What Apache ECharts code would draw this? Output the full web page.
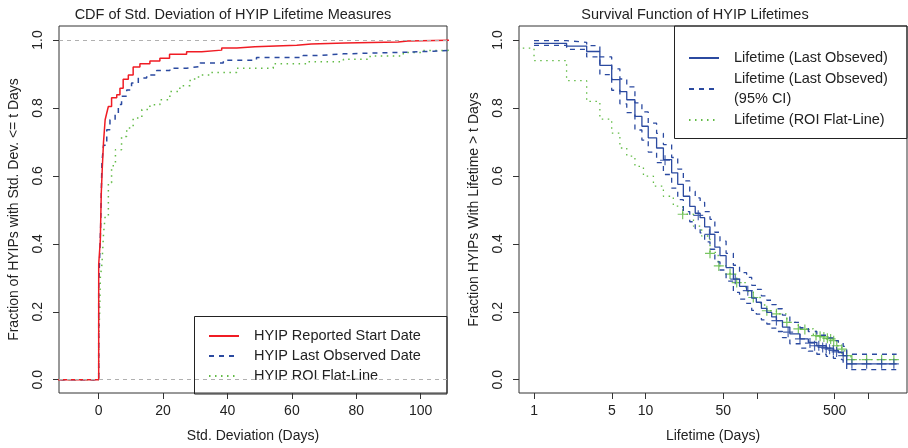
<!DOCTYPE html>
<html><head><meta charset="utf-8">
<script src="https://cdn.jsdelivr.net/npm/echarts@6/dist/echarts.min.js"></script>
<style>html,body{margin:0;padding:0;background:#fff}#c{width:908px;height:448px}</style>
</head><body><div id="c"></div>
<script>
// ---------- tick values ----------
const leftXTicks = [0, 20, 40, 60, 80, 100];
const probTicks = [0, 0.2, 0.4, 0.6, 0.8, 1.0];
const rightXTicks = [1, 5, 10, 50, 100, 500, 1000];
const rightXLabels = [1, 5, 10, 50, 500];

// ---------- left: ECDF of std. deviation ----------
const startX = [-15, 0, 0.5, 0.8, 1.1, 1.5, 2.0, 2.5, 3.0, 4.0, 5.6, 6.6, 7.6, 9.2, 10.7, 12.8, 15.9, 19, 22, 27.3, 32, 38.2, 42.9, 48.5, 61.5, 66, 76.5, 93, 96, 115];
const startY = [0, 0.34, 0.41, 0.55, 0.62, 0.70, 0.765, 0.785, 0.804, 0.83, 0.839, 0.858, 0.884, 0.897, 0.92, 0.93, 0.938, 0.946, 0.958, 0.965, 0.97, 0.976, 0.98, 0.984, 0.988, 0.991, 0.994, 0.997, 1.0, 1.0];

const lastX = [-15, 0, 0.6, 1.0, 1.5, 2.5, 3.5, 5.1, 6.1, 7.1, 8.7, 10.2, 12.3, 14.9, 18, 22.1, 27.3, 31.5, 38.7, 49, 63.5, 67.7, 76, 84, 95.6, 104, 115];
const lastY = [0, 0.27, 0.45, 0.64, 0.69, 0.736, 0.765, 0.78, 0.81, 0.834, 0.853, 0.873, 0.888, 0.897, 0.91, 0.917, 0.922, 0.932, 0.94, 0.948, 0.954, 0.959, 0.961, 0.964, 0.967, 0.971, 0.973];

const roiX = [-15, 0, 0.3, 0.5, 1.0, 1.5, 2.0, 3.0, 4.0, 5.2, 7.1, 8.7, 10.7, 13.4, 15.9, 19, 22.1, 25.2, 28.4, 31, 34.6, 42.9, 54.2, 64.6, 76, 84.3, 94.6, 100.8, 108, 115];
const roiY = [0, 0.12, 0.2, 0.3, 0.34, 0.43, 0.48, 0.58, 0.63, 0.677, 0.716, 0.741, 0.77, 0.795, 0.809, 0.824, 0.848, 0.865, 0.885, 0.897, 0.904, 0.917, 0.93, 0.936, 0.943, 0.953, 0.963, 0.969, 0.973, 0.973];

// ---------- right: survival (Kaplan-Meier) ----------
const survT = [1, 1.96, 2.97, 3.9, 4.98, 5.9, 6.8, 8.05, 9.3, 10.6, 12.6, 14.5, 17.2, 19.5, 21.9, 25, 28, 31, 34, 38, 42, 46.7, 53, 61.6, 70, 81, 90, 99, 110, 123, 136, 150, 170, 198, 244, 290, 346, 420, 487, 540, 596, 641, 1800];
const survS = [0.99, 0.982, 0.966, 0.925, 0.883, 0.848, 0.824, 0.775, 0.746, 0.712, 0.682, 0.648, 0.609, 0.575, 0.54, 0.51, 0.49, 0.477, 0.45, 0.428, 0.39, 0.365, 0.33, 0.296, 0.275, 0.262, 0.24, 0.228, 0.21, 0.198, 0.185, 0.174, 0.155, 0.135, 0.12, 0.11, 0.10, 0.093, 0.086, 0.08, 0.071, 0.047, 0.047];
const survUpper = [0.998, 0.993, 0.983, 0.95, 0.915, 0.885, 0.862, 0.815, 0.788, 0.755, 0.725, 0.692, 0.654, 0.62, 0.585, 0.555, 0.535, 0.522, 0.495, 0.472, 0.434, 0.408, 0.372, 0.337, 0.315, 0.301, 0.278, 0.266, 0.247, 0.234, 0.221, 0.209, 0.19, 0.169, 0.153, 0.142, 0.131, 0.123, 0.115, 0.108, 0.098, 0.075, 0.075];
const survLower = [0.984, 0.972, 0.95, 0.898, 0.852, 0.812, 0.786, 0.735, 0.705, 0.67, 0.639, 0.604, 0.564, 0.53, 0.495, 0.465, 0.445, 0.432, 0.406, 0.384, 0.347, 0.323, 0.29, 0.257, 0.237, 0.225, 0.204, 0.193, 0.176, 0.164, 0.152, 0.142, 0.124, 0.106, 0.093, 0.084, 0.075, 0.069, 0.063, 0.058, 0.05, 0.03, 0.03];
const censorT = [15, 29.8, 37.6, 64, 83, 150, 191, 244, 300, 330, 360, 390, 420, 450, 487, 520, 596, 714, 968, 1320, 1700];
const censorS = [0.646, 0.484, 0.428, 0.296, 0.262, 0.174, 0.14, 0.12, 0.108, 0.10, 0.10, 0.095, 0.093, 0.09, 0.086, 0.082, 0.071, 0.047, 0.047, 0.047, 0.047];

const roiT = [0.7, 1, 1.96, 2.97, 3.9, 4.98, 5.9, 6.8, 8.05, 9.6, 11.8, 14.5, 17.8, 21.6, 27, 32, 38, 45, 57.5, 66, 80, 93, 108, 123, 150, 186, 236, 322, 424, 522, 580, 641, 700, 1800];
const roiS = [0.976, 0.939, 0.88, 0.819, 0.767, 0.726, 0.682, 0.658, 0.628, 0.599, 0.57, 0.54, 0.511, 0.487, 0.452, 0.423, 0.375, 0.335, 0.311, 0.286, 0.26, 0.242, 0.22, 0.203, 0.194, 0.169, 0.15, 0.13, 0.12, 0.10, 0.085, 0.071, 0.059, 0.059];
const roiCensorT = [21.6, 38, 45.6, 57.5, 66, 93, 123, 150, 186, 236, 270, 340, 370, 400, 430, 460, 490, 522, 580, 641, 714, 968, 1320, 1700];
const roiCensorS = [0.487, 0.372, 0.335, 0.311, 0.286, 0.242, 0.203, 0.194, 0.169, 0.15, 0.148, 0.13, 0.128, 0.126, 0.122, 0.12, 0.115, 0.10, 0.09, 0.071, 0.059, 0.059, 0.059, 0.059];

const RED = '#f01c24', BLUE = '#2b4aa0', GREEN = '#62bb46';
const FONT = 'Liberation Sans';
const zip = (a, b) => a.map((v, i) => [v, b[i]]);
const CROSS = 'path://M4.4,0h1.2v10h-1.2zM0,4.4h10v1.2h-10z';

function yAxis(grid) {
  return {
    type: 'value', gridIndex: grid, min: -0.039, max: 1.041,
    name: grid === 0 ? 'Fraction of HYIPs with Std. Dev. <= t Days' : 'Fraction HYIPs With Lifetime > t Days',
    nameLocation: 'middle', nameGap: 38, nameRotate: 90,
    nameTextStyle: { fontFamily: FONT, fontSize: 14, color: '#222' },
    axisLine: { show: false, onZero: false }, splitLine: { show: false },
    axisTick: { show: true, length: 6, customValues: probTicks, lineStyle: { color: '#333' } },
    axisLabel: { customValues: probTicks, rotate: 90, margin: 14, fontFamily: FONT, fontSize: 14, color: '#222',
      formatter: v => v.toFixed(1) }
  };
}

const legendText = { fontFamily: FONT, fontSize: 14.5, color: '#222', lineHeight: 20, padding: [0, 0, 0, 10] };

const option = {
  animation: false,
  backgroundColor: '#fff',
  title: [
    { text: 'CDF of Std. Deviation of HYIP Lifetime Measures', left: 228, top: 2, textAlign: 'center',
      textStyle: { fontFamily: FONT, fontSize: 14.5, fontWeight: 'normal', color: '#222' } },
    { text: 'Survival Function of HYIP Lifetimes', left: 690, top: 2, textAlign: 'center',
      textStyle: { fontFamily: FONT, fontSize: 14.5, fontWeight: 'normal', color: '#222' } }
  ],
  grid: [
    { left: 59, top: 26, width: 388, height: 368, show: true, borderColor: '#333', borderWidth: 1, backgroundColor: 'transparent' },
    { left: 519, top: 26, width: 388, height: 368, show: true, borderColor: '#333', borderWidth: 1, backgroundColor: 'transparent' }
  ],
  xAxis: [
    { type: 'value', gridIndex: 0, min: -12.33, max: 108.17,
      name: 'Std. Deviation (Days)', nameLocation: 'middle', nameGap: 36,
      nameTextStyle: { fontFamily: FONT, fontSize: 14, color: '#222' },
      axisLine: { show: false, onZero: false }, splitLine: { show: false },
      axisTick: { show: true, length: 6, customValues: leftXTicks, lineStyle: { color: '#333' } },
      axisLabel: { customValues: leftXTicks, margin: 11, fontFamily: FONT, fontSize: 14, color: '#222' } },
    { type: 'log', gridIndex: 1, min: 0.733, max: 2230, logBase: 10,
      name: 'Lifetime (Days)', nameLocation: 'middle', nameGap: 36,
      nameTextStyle: { fontFamily: FONT, fontSize: 14, color: '#222' },
      axisLine: { show: false, onZero: false }, splitLine: { show: false }, minorTick: { show: false },
      axisTick: { show: true, length: 6, customValues: rightXTicks, lineStyle: { color: '#333' } },
      axisLabel: { customValues: rightXLabels, margin: 11, fontFamily: FONT, fontSize: 14, color: '#222' } }
  ],
  yAxis: [yAxis(0), yAxis(1)],
  legend: [
    { data: ['HYIP Reported Start Date', 'HYIP Last Observed Date', 'HYIP ROI Flat-Line'],
      orient: 'vertical', left: 208, top: 326, padding: 0, itemWidth: 30, itemHeight: 10, itemGap: 0, selectedMode: false,
      itemStyle: { opacity: 0 }, textStyle: legendText },
    { data: ['Lifetime (Last Obseved)', 'Lifetime (Last Obseved)\n(95% CI)', 'Lifetime (ROI Flat-Line)'],
      orient: 'vertical', left: 688, top: 48, padding: 0, itemWidth: 30, itemHeight: 10, itemGap: 1, selectedMode: false,
      itemStyle: { opacity: 0 }, textStyle: legendText }
  ],
  graphic: [
    { type: 'rect', shape: { x: 194.5, y: 316.5, width: 252.5, height: 77.5 }, style: { fill: 'none', stroke: '#222', lineWidth: 1 }, silent: true },
    { type: 'rect', shape: { x: 674.5, y: 26, width: 232.5, height: 112.5 }, style: { fill: 'none', stroke: '#222', lineWidth: 1 }, silent: true }
  ],
  series: [
    { type: 'line', name: 'ref', xAxisIndex: 0, yAxisIndex: 0, data: [], symbol: 'none',
      markLine: { silent: true, symbol: 'none', label: { show: false },
        lineStyle: { color: '#b0b0b0', type: [4, 4], width: 1 },
        data: [{ yAxis: 0 }, { yAxis: 1 }] } },
    { type: 'line', name: 'HYIP ROI Flat-Line', xAxisIndex: 0, yAxisIndex: 0, step: 'end', symbol: 'none',
      data: zip(roiX, roiY), lineStyle: { color: GREEN, width: 1.5, type: [1.5, 4.5] }, itemStyle: { color: GREEN } },
    { type: 'line', name: 'HYIP Last Observed Date', xAxisIndex: 0, yAxisIndex: 0, step: 'end', symbol: 'none',
      data: zip(lastX, lastY), lineStyle: { color: BLUE, width: 1.5, type: [5, 5] }, itemStyle: { color: BLUE } },
    { type: 'line', name: 'HYIP Reported Start Date', xAxisIndex: 0, yAxisIndex: 0, step: 'end', symbol: 'none',
      data: zip(startX, startY), lineStyle: { color: RED, width: 1.5 }, itemStyle: { color: RED } },

    { type: 'line', name: 'Lifetime (ROI Flat-Line)', xAxisIndex: 1, yAxisIndex: 1, step: 'end', symbol: 'none',
      data: zip(roiT, roiS), lineStyle: { color: GREEN, width: 1.3, type: [1.5, 4.5] }, itemStyle: { color: GREEN } },
    { type: 'scatter', name: 'roiCensor', xAxisIndex: 1, yAxisIndex: 1, symbol: CROSS, symbolSize: 10,
      data: zip(roiCensorT, roiCensorS), itemStyle: { color: GREEN, opacity: 0.85 } },
    { type: 'line', name: 'Lifetime (Last Obseved)\n(95% CI)', xAxisIndex: 1, yAxisIndex: 1, step: 'end', symbol: 'none',
      data: zip(survT, survUpper), lineStyle: { color: BLUE, width: 1.3, type: [5, 5] }, itemStyle: { color: BLUE } },
    { type: 'line', name: 'Lifetime (Last Obseved)\n(95% CI)', xAxisIndex: 1, yAxisIndex: 1, step: 'end', symbol: 'none',
      data: zip(survT, survLower), lineStyle: { color: BLUE, width: 1.3, type: [5, 5] }, itemStyle: { color: BLUE } },
    { type: 'line', name: 'Lifetime (Last Obseved)', xAxisIndex: 1, yAxisIndex: 1, step: 'end', symbol: 'none',
      data: zip(survT, survS), lineStyle: { color: BLUE, width: 1.3 }, itemStyle: { color: BLUE } },
    { type: 'scatter', name: 'censor', xAxisIndex: 1, yAxisIndex: 1, symbol: CROSS, symbolSize: 10,
      data: zip(censorT, censorS), itemStyle: { color: BLUE, opacity: 0.85 } }
  ]
};
const chart = echarts.init(document.getElementById('c'), null, { renderer: 'canvas' });
chart.setOption(option);
</script></body></html>
